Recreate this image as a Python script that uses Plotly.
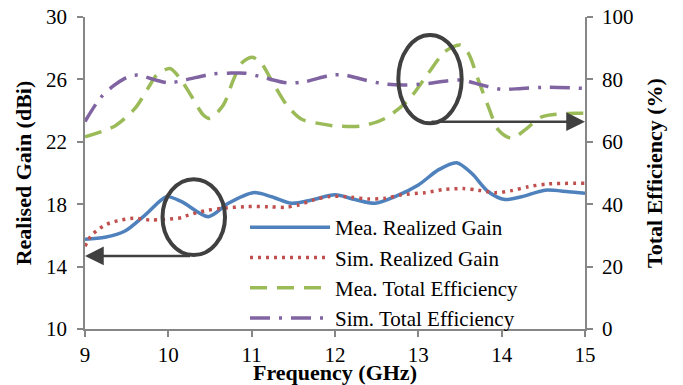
import plotly.graph_objects as go

# Measured realised gain (dBi)
mea_gain_f = [9.0, 9.24, 9.48, 9.72, 9.98, 10.16, 10.48, 10.72, 11.02, 11.24, 11.48, 11.72, 12.0,
              12.24, 12.48, 12.72, 13.0, 13.24, 13.46, 13.64, 13.84, 14.04, 14.24, 14.52, 14.8, 15.0]
mea_gain = [15.75, 15.88, 16.28, 17.3, 18.48, 18.16, 17.2, 18.06, 18.74, 18.48, 18.06, 18.27, 18.6,
            18.3, 18.06, 18.48, 19.23, 20.2, 20.66, 19.98, 18.8, 18.3, 18.48, 18.9, 18.8, 18.7]

# Simulated realised gain (dBi)
sim_gain_f = [9.0, 9.07, 9.14, 9.22, 9.3, 9.4, 9.58, 9.78, 9.96, 10.16, 10.24, 10.44, 10.64, 10.92,
              11.2, 11.4, 11.56, 11.76, 11.94, 12.2, 12.4, 12.6, 12.8, 13.08, 13.32, 13.54, 13.72,
              13.92, 14.12, 14.32, 14.56, 15.0]
sim_gain = [15.3, 15.96, 16.3, 16.6, 16.8, 16.94, 17.1, 16.99, 17.03, 17.14, 17.3, 17.58, 17.73, 17.84,
            17.84, 17.8, 17.95, 18.3, 18.5, 18.45, 18.33, 18.38, 18.6, 18.74, 18.95, 19.0, 18.9,
            18.74, 18.87, 19.12, 19.3, 19.34]

# Measured total efficiency (%)
mea_eff_f = [9.0, 9.36, 9.6, 9.78, 9.86, 10.02, 10.14, 10.28, 10.42, 10.5, 10.66, 10.78, 10.88, 11.0,
             11.1, 11.26, 11.42, 11.6, 11.8, 12.0, 12.32, 12.6, 12.88, 13.12, 13.32, 13.5, 13.6,
             13.72, 13.84, 13.96, 14.12, 14.28, 14.48, 14.8, 15.0]
mea_eff = [61.6, 65.1, 70.7, 78.2, 81.4, 83.5, 80.3, 74.5, 68.6, 67.5, 71.8, 79.8, 85.2, 87.1,
           85.7, 78.7, 71.8, 67.2, 65.9, 65.1, 65.1, 67.5, 73.4, 82.0, 88.9, 91.0, 88.4,
           79.8, 71.3, 63.8, 61.1, 63.8, 68.0, 69.1, 69.1]

# Simulated total efficiency (%)
sim_eff_f = [9.0, 9.18, 9.34, 9.52, 9.64, 9.82, 10.0, 10.2, 10.52, 10.72, 10.92, 11.16, 11.42, 11.64,
             11.96, 12.12, 12.36, 12.6, 12.84, 13.12, 13.36, 13.52, 13.76, 14.0, 14.24, 14.56, 15.0]
sim_eff = [66.5, 73.9, 77.9, 80.9, 81.4, 80.0, 78.9, 79.8, 81.7, 82.0, 82.0, 80.5, 78.9, 79.3,
           81.4, 81.4, 79.8, 78.5, 78.2, 78.7, 79.6, 79.8, 78.2, 76.8, 77.1, 77.5, 77.1]

names = ["Mea. Realized Gain", "Sim. Realized Gain", "Mea. Total Efficiency", "Sim. Total Efficiency"]
x_ticks = [9, 10, 11, 12, 13, 14, 15]

FONT = "Liberation Serif, Times New Roman, serif"
GRAY = "#868686"
DARK = "#404040"

fig = go.Figure()
fig.add_trace(go.Scatter(x=mea_gain_f, y=mea_gain, name=names[0], mode="lines",
                         line=dict(color="#4F81BD", width=3.5, shape="spline", smoothing=0.8)))
fig.add_trace(go.Scatter(x=sim_gain_f, y=sim_gain, name=names[1], mode="lines",
                         line=dict(color="#C0504D", width=3.5, dash="3px,5px", shape="spline", smoothing=0.8)))
fig.add_trace(go.Scatter(x=mea_eff_f, y=mea_eff, name=names[2], mode="lines", yaxis="y2",
                         line=dict(color="#9BBB59", width=3.5, dash="17px,10px", shape="spline", smoothing=0.8)))
fig.add_trace(go.Scatter(x=sim_eff_f, y=sim_eff, name=names[3], mode="lines", yaxis="y2",
                         line=dict(color="#8064A2", width=3.5, dash="20px,9px,3px,9px", shape="spline", smoothing=0.8)))

# Ellipses highlighting the regions
fig.add_shape(type="circle", xref="x", yref="y", x0=12.76, x1=13.52, y0=23.19, y1=28.85,
              line=dict(color=DARK, width=4))
fig.add_shape(type="circle", xref="x", yref="y", x0=9.93, x1=10.68, y0=14.74, y1=19.6,
              line=dict(color=DARK, width=4))

# Arrows pointing at the relevant axes
fig.add_annotation(x=15.0, y=23.29, ax=13.14, ay=23.29, xref="x", yref="y", axref="x", ayref="y",
                   text="", showarrow=True, arrowhead=2, arrowsize=1.5, arrowwidth=2.5, arrowcolor=DARK)
fig.add_annotation(x=9.0, y=14.68, ax=10.28, ay=14.68, xref="x", yref="y", axref="x", ayref="y",
                   text="", showarrow=True, arrowhead=2, arrowsize=1.5, arrowwidth=2.5, arrowcolor=DARK)

axis_common = dict(showline=True, linecolor=GRAY, linewidth=1.5, ticks="outside", ticklen=6,
                   tickcolor=GRAY, tickwidth=1.5, showgrid=False, zeroline=False,
                   tickfont=dict(family=FONT, size=21, color="black"), automargin=False)

fig.update_layout(
    width=683, height=385,
    margin=dict(l=85, r=98, t=17, b=56),
    paper_bgcolor="white", plot_bgcolor="white",
    font=dict(family=FONT, size=21, color="black"),
    xaxis=dict(range=[9, 15], tickvals=x_ticks, ticktext=[str(v) for v in x_ticks],
               title=dict(text="<b>Frequency (GHz)</b>", font=dict(family=FONT, size=22), standoff=5),
               **axis_common),
    yaxis=dict(range=[10, 30], dtick=4, tick0=10, ticklabelstandoff=6,
               title=dict(text="<b>Realised Gain (dBi)</b>", font=dict(family=FONT, size=22), standoff=8),
               **axis_common),
    yaxis2=dict(range=[0, 100], dtick=20, tick0=0, overlaying="y", side="right", ticklabelstandoff=5,
                title=dict(text="<b>Total Efficiency (%)</b>", font=dict(family=FONT, size=22), standoff=14),
                **axis_common),
    legend=dict(x=0.32, y=0.391, xanchor="left", yanchor="top", bgcolor="rgba(255,255,255,0)",
                font=dict(family=FONT, size=21), tracegroupgap=0, itemwidth=80),
    showlegend=True,
)

fig.write_html("out.html")
